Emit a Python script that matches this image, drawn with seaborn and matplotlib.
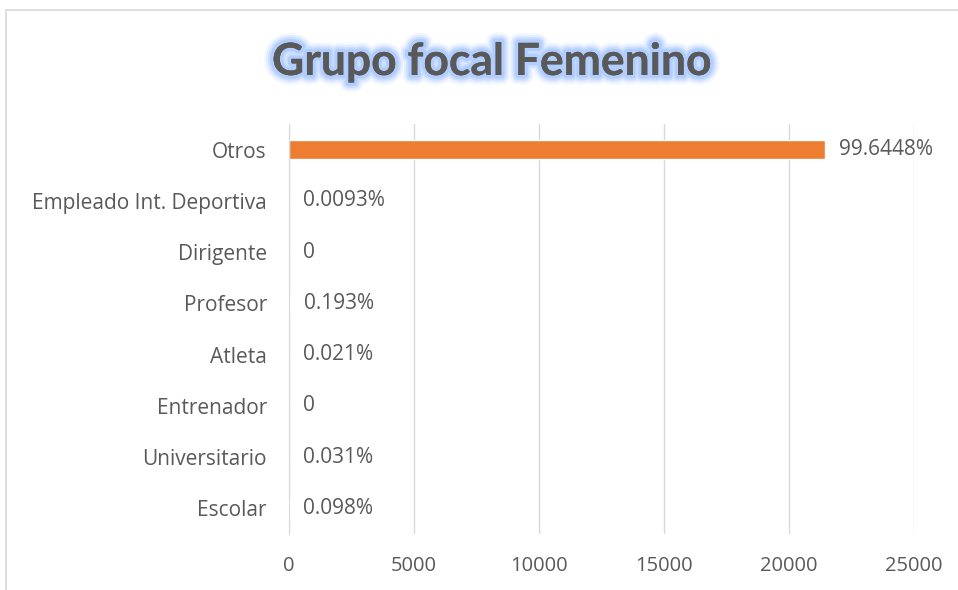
import seaborn as sns
import matplotlib.pyplot as plt
import matplotlib.patheffects as pe
from matplotlib.patches import Rectangle
import pandas as pd

categorias = ["Otros", "Empleado Int. Deportiva", "Dirigente", "Profesor",
              "Atleta", "Entrenador", "Universitario", "Escolar"]
valores = [21450, 2, 0, 41.5, 4.5, 0, 6.7, 21]
etiquetas = ["99.6448%", "0.0093%", "0", "0.193%", "0.021%", "0", "0.031%", "0.098%"]
ticks_x = [0, 5000, 10000, 15000, 20000, 25000]

df = pd.DataFrame({"categoria": categorias, "valor": valores})

sns.set_style("white")
plt.rcParams['font.family'] = ['Open Sans', 'DejaVu Sans']
gris = "#595959"

fig = plt.figure(figsize=(9.58, 5.9), dpi=100)
ax = fig.add_axes([289/958, 1-534/590, (914-289)/958, (534-124)/590])

sns.barplot(data=df, x="valor", y="categoria", color="#ED7D31", width=0.37,
            saturation=1, ax=ax)

ax.bar_label(ax.containers[0], labels=etiquetas, padding=10, fontsize=15, color=gris)

ax.set_xlim(0, 25000)
ax.set_xticks(ticks_x)
ax.set_xticklabels([str(t) for t in ticks_x])
ax.set_xlabel("")
ax.set_ylabel("")
ax.grid(axis="x", color="#d9d9d9", linewidth=1)
ax.set_axisbelow(True)
for s in ["top", "right", "bottom"]:
    ax.spines[s].set_visible(False)
ax.spines["left"].set_color("#d9d9d9")
ax.tick_params(axis="y", length=0, labelsize=15, labelcolor=gris, pad=16)
ax.tick_params(axis="x", length=0, labelsize=14.5, labelcolor=gris, pad=16)

# glowing title
glow = [pe.withStroke(linewidth=w, foreground="#a8c8ff", alpha=a)
        for w, a in [(14, 0.12), (11, 0.22), (8, 0.4), (5, 0.7)]] + [pe.Normal()]
fig.text(492/958, 1-62/590, "Grupo focal Femenino", ha="center", va="center",
         fontsize=32, fontweight="bold", color=gris, path_effects=glow,
         family=['Lato', 'DejaVu Sans'])

# chart frame (cut off on right and bottom)
fig.patches.append(Rectangle((6/958, -0.1), 1.1, 1-10/590+0.1, transform=fig.transFigure,
                             fill=False, edgecolor="#d9d9d9", linewidth=1.2))

fig.savefig("out.png", dpi=100)
